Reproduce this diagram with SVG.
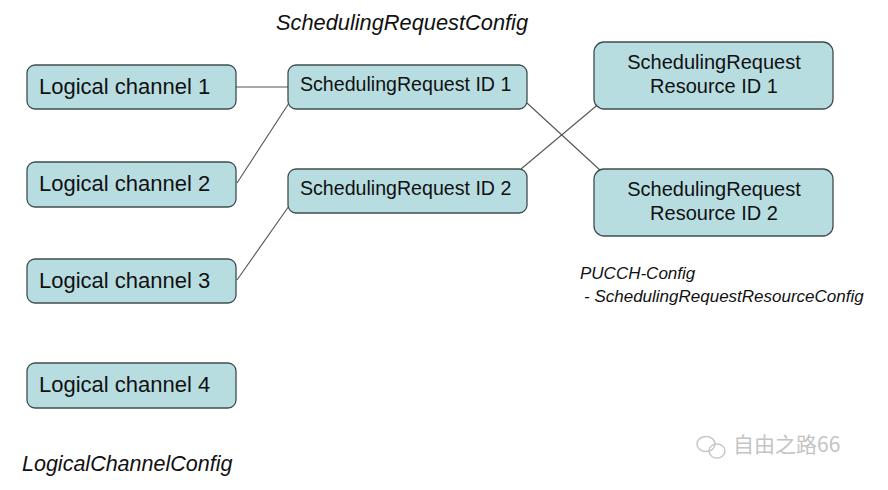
<svg xmlns="http://www.w3.org/2000/svg" width="888" height="490" viewBox="0 0 888 490">
<style>
.box{fill:#b8dde1;stroke:#3f4d4f;stroke-width:1.3}
.lbl{font-family:"Liberation Sans",Arial,sans-serif;fill:#111}
.cap{font-family:"Liberation Sans",Arial,sans-serif;font-style:italic;fill:#111}
.conn line{stroke:#555;stroke-width:1.1}
.wm{fill:none;stroke:#c8c8c8;stroke-width:1.5}
</style>
<rect width="888" height="490" fill="#fff"/>
<text class="cap" x="276" y="30" font-size="21.8">SchedulingRequestConfig</text>
<g class="conn">
<line x1="236" y1="87" x2="288" y2="87"/>
<line x1="237" y1="183" x2="289" y2="103"/>
<line x1="237" y1="280" x2="289" y2="206"/>
<line x1="527" y1="103" x2="601" y2="171"/>
<line x1="521" y1="169" x2="601" y2="102"/>
</g>
<g id="lc1"><rect class="box" x="27" y="65" width="209" height="44" rx="8"/><text class="lbl" x="39" y="94" font-size="22">Logical channel 1</text></g>
<g id="lc2"><rect class="box" x="27" y="162" width="209" height="45" rx="8"/><text class="lbl" x="39" y="191" font-size="22">Logical channel 2</text></g>
<g id="lc3"><rect class="box" x="27" y="259" width="209" height="44" rx="8"/><text class="lbl" x="39" y="288" font-size="22">Logical channel 3</text></g>
<g id="lc4"><rect class="box" x="27" y="363" width="209" height="45" rx="8"/><text class="lbl" x="39" y="392" font-size="22">Logical channel 4</text></g>
<g id="sr1"><rect class="box" x="288" y="65" width="239" height="44" rx="8"/><text class="lbl" x="300" y="91" font-size="19.6">SchedulingRequest ID 1</text></g>
<g id="sr2"><rect class="box" x="288" y="169" width="239" height="44" rx="8"/><text class="lbl" x="300" y="195" font-size="19.6">SchedulingRequest ID 2</text></g>
<g id="res1"><rect class="box" x="594" y="42" width="239" height="67" rx="10"/><text class="lbl" x="714" y="69" font-size="20" text-anchor="middle">SchedulingRequest</text><text class="lbl" x="714" y="93" font-size="20" text-anchor="middle">Resource ID 1</text></g>
<g id="res2"><rect class="box" x="594" y="169" width="239" height="67" rx="10"/><text class="lbl" x="714" y="196" font-size="20" text-anchor="middle">SchedulingRequest</text><text class="lbl" x="714" y="220" font-size="20" text-anchor="middle">Resource ID 2</text></g>
<text class="cap" x="580" y="279" font-size="17">PUCCH-Config</text>
<text class="cap" x="584" y="302" font-size="17">- SchedulingRequestResourceConfig</text>
<text class="cap" x="22" y="471" font-size="21.5">LogicalChannelConfig</text>
<g id="watermark">
<ellipse class="wm" cx="706" cy="444" rx="9" ry="7.5"/>
<ellipse class="wm" cx="717" cy="451" rx="8" ry="7" fill="#fff"/>
<text x="733" y="452" font-size="21" fill="#c4c4c4" font-family="'Noto Sans CJK SC',sans-serif">自由之路66</text>
</g>
</svg>
